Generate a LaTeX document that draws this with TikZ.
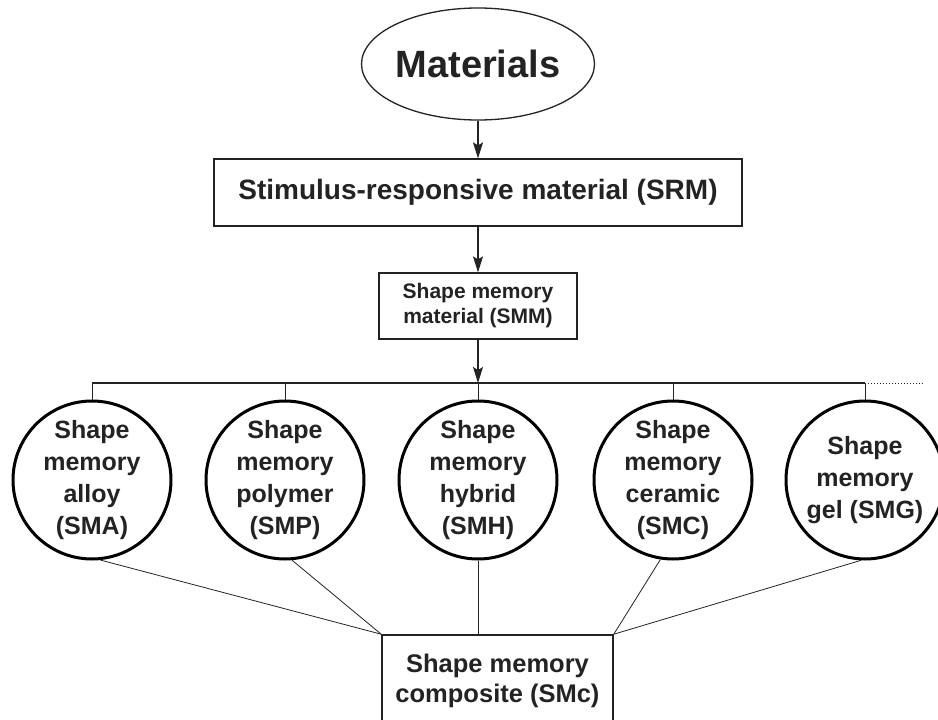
\documentclass[tikz,border=0pt]{standalone}
\usepackage{fontspec}
\setmainfont{Liberation Sans}
\usetikzlibrary{shapes.geometric}
\usetikzlibrary{arrows.meta}

\definecolor{ink}{RGB}{35,35,35}

\begin{document}
\begin{tikzpicture}[x=1pt,y=-1pt,
  every node/.style={text=ink, font=\bfseries},
  flowbox/.style={draw=ink, line width=1.2pt, rectangle, inner sep=0pt, align=center},
  memcircle/.style={draw=black, line width=3pt, circle, minimum size=158pt, inner sep=-12pt,
    align=center, font=\bfseries\fontsize{25}{31.7}\selectfont},
  link/.style={draw=ink, line width=0.8pt},
  flow/.style={draw=ink, line width=1.2pt, -{Stealth[length=16pt,width=10pt,inset=3pt]}}]

  \path[use as bounding box, fill=white] (0,0) rectangle (938,720);

  % top of the tree
  \node[ellipse, draw=ink, line width=1.3pt, minimum width=204pt, minimum height=112pt,
    inner sep=0pt, font=\bfseries\fontsize{38}{44}\selectfont] (materials) at (478,64) {Materials};
  \node[flowbox, minimum width=528pt, minimum height=67pt,
    font=\bfseries\fontsize{28}{32}\selectfont] (srm) at (478,192.5) {Stimulus-responsive material (SRM)};
  \node[flowbox, minimum width=198pt, minimum height=66pt,
    font=\bfseries\fontsize{21}{25}\selectfont] (smm) at (478,306) {Shape memory\\material (SMM)};

  \draw[flow] (materials.south) -- (materials.south |- srm.north);
  \draw[flow] (srm.south) -- (smm.north);

  % the five kinds
  \foreach \nm/\cx/\txt in {alloy/92/{Shape\\memory\\alloy\\(SMA)},
      polymer/285/{Shape\\memory\\polymer\\(SMP)},
      hybrid/478/{Shape\\memory\\hybrid\\(SMH)},
      ceramic/673/{Shape\\memory\\ceramic\\(SMC)},
      gel/865/{Shape\\memory\\gel (SMG)}}
    \node[memcircle] (\nm) at (\cx,480) {\txt};

  \coordinate (bus) at (478,383);
  \coordinate (busend) at (923,383);
  \draw[flow] (smm.south) -- (bus);
  \draw[draw=ink, line width=1.2pt] (alloy.north |- bus) -- (gel.north |- bus);
  \draw[draw=ink, line width=1pt, dotted] (gel.north |- bus) -- (busend);
  \foreach \nm in {alloy,polymer,hybrid,ceramic,gel}
    \draw[link] (\nm.north |- bus) -- (\nm.north);

  % composite
  \node[flowbox, line width=1.6pt, minimum width=231pt, minimum height=92pt,
    font=\bfseries\fontsize{25.5}{30}\selectfont] (composite) at (497.5,681) {Shape memory\\composite (SMc)};

  \draw[link] (alloy.-84) -- (composite.north west);
  \draw[link] (polymer.-85) -- (composite.north west);
  \draw[link] (hybrid.south) -- (hybrid.south |- composite.north);
  \draw[link] (ceramic.-99) -- (composite.north east);
  \draw[link] (gel.-93) -- (composite.north east);

\end{tikzpicture}
\end{document}
